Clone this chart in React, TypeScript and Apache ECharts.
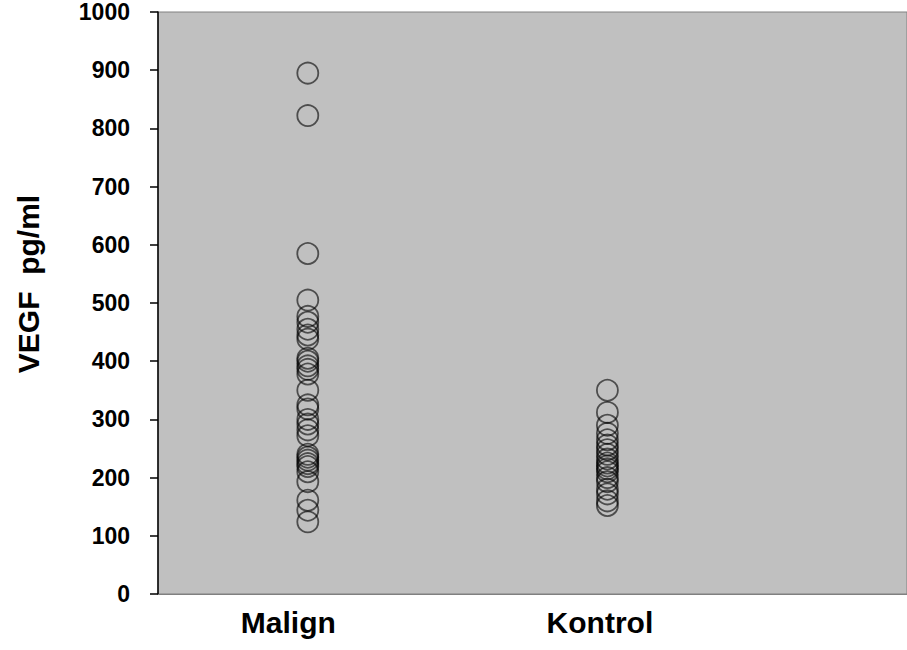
import React, { useEffect, useRef } from "react";
import * as echarts from "echarts";

const categories = ["Malign", "Kontrol"];
const categoryX = [1, 3];
const labelX = [0.87, 2.95];
const malignValues = [895, 822, 585, 505, 477, 467, 455, 445, 438, 405, 400, 392, 386, 378, 350, 325, 318, 300, 292, 282, 272, 240, 235, 230, 224, 219, 210, 193, 161, 144, 124];
const kontrolValues = [350, 312, 290, 276, 265, 256, 248, 240, 232, 225, 220, 215, 210, 200, 193, 180, 172, 160, 152];
const yTitle = "VEGF  pg/ml";

export default function App() {
  const ref = useRef<HTMLDivElement>(null);
  useEffect(() => {
    if (!ref.current) return;
    const chart = echarts.init(ref.current, null, { renderer: "svg" });
    const mk = (vals: number[], x: number) => vals.map((v) => [x, v]);
    const pointStyle = {
      color: "rgba(0,0,0,0)",
      borderColor: "rgba(0,0,0,0.75)",
      borderWidth: 1.8,
    };
    chart.setOption({
      animation: false,
      grid: {
        left: 158,
        right: 0,
        top: 12,
        bottom: 56,
        show: true,
        backgroundColor: "#C0C0C0",
        borderColor: "#808080",
        borderWidth: 1,
      },
      xAxis: [
        {
          type: "value",
          min: 0,
          max: 5,
          axisLine: { show: true, lineStyle: { color: "#808080", width: 1 } },
          axisTick: { show: false },
          axisLabel: { show: false },
          splitLine: { show: false },
        },
        {
          type: "value",
          min: 0,
          max: 5,
          position: "bottom",
          axisLine: { show: false },
          axisTick: { show: false },
          splitLine: { show: false },
          axisLabel: {
            show: true,
            customValues: labelX,
            margin: 13,
            fontFamily: "Liberation Sans, Arial, sans-serif",
            fontWeight: "bold",
            fontSize: 30,
            color: "#000",
            formatter: (v: number) => {
              const i = labelX.findIndex((p) => Math.abs(p - v) < 1e-6);
              return i >= 0 ? categories[i] : "";
            },
          },
        },
      ],
      yAxis: {
        type: "value",
        min: 0,
        max: 1000,
        interval: 100,
        axisLine: { show: true, lineStyle: { color: "#000", width: 1.5 } },
        axisTick: { show: true, inside: false, length: 8, lineStyle: { color: "#000", width: 1.5 } },
        axisLabel: {
          margin: 28,
          fontFamily: "Liberation Sans, Arial, sans-serif",
          fontWeight: "bold",
          fontSize: 23,
          color: "#000",
          formatter: (v: number) => String(v),
        },
        splitLine: { show: false },
      },
      graphic: [
        {
          type: "text",
          x: 28,
          y: 284,
          rotation: Math.PI / 2,
          style: {
            text: yTitle,
            fontFamily: "Liberation Sans, Arial, sans-serif",
            fontWeight: "bold",
            fontSize: 30,
            fill: "#000",
            align: "center",
            verticalAlign: "middle",
          },
        },
      ],
      series: [
        {
          name: categories[0],
          type: "scatter",
          xAxisIndex: 0,
          symbol: "circle",
          symbolSize: 21,
          itemStyle: pointStyle,
          data: mk(malignValues, categoryX[0]),
        },
        {
          name: categories[1],
          type: "scatter",
          xAxisIndex: 0,
          symbol: "circle",
          symbolSize: 21,
          itemStyle: pointStyle,
          data: mk(kontrolValues, categoryX[1]),
        },
      ],
    });
    return () => chart.dispose();
  }, []);
  return (
    <div
      ref={ref}
      style={{ position: "absolute", left: 0, top: 0, width: 907, height: 650, background: "#fff" }}
    />
  );
}
